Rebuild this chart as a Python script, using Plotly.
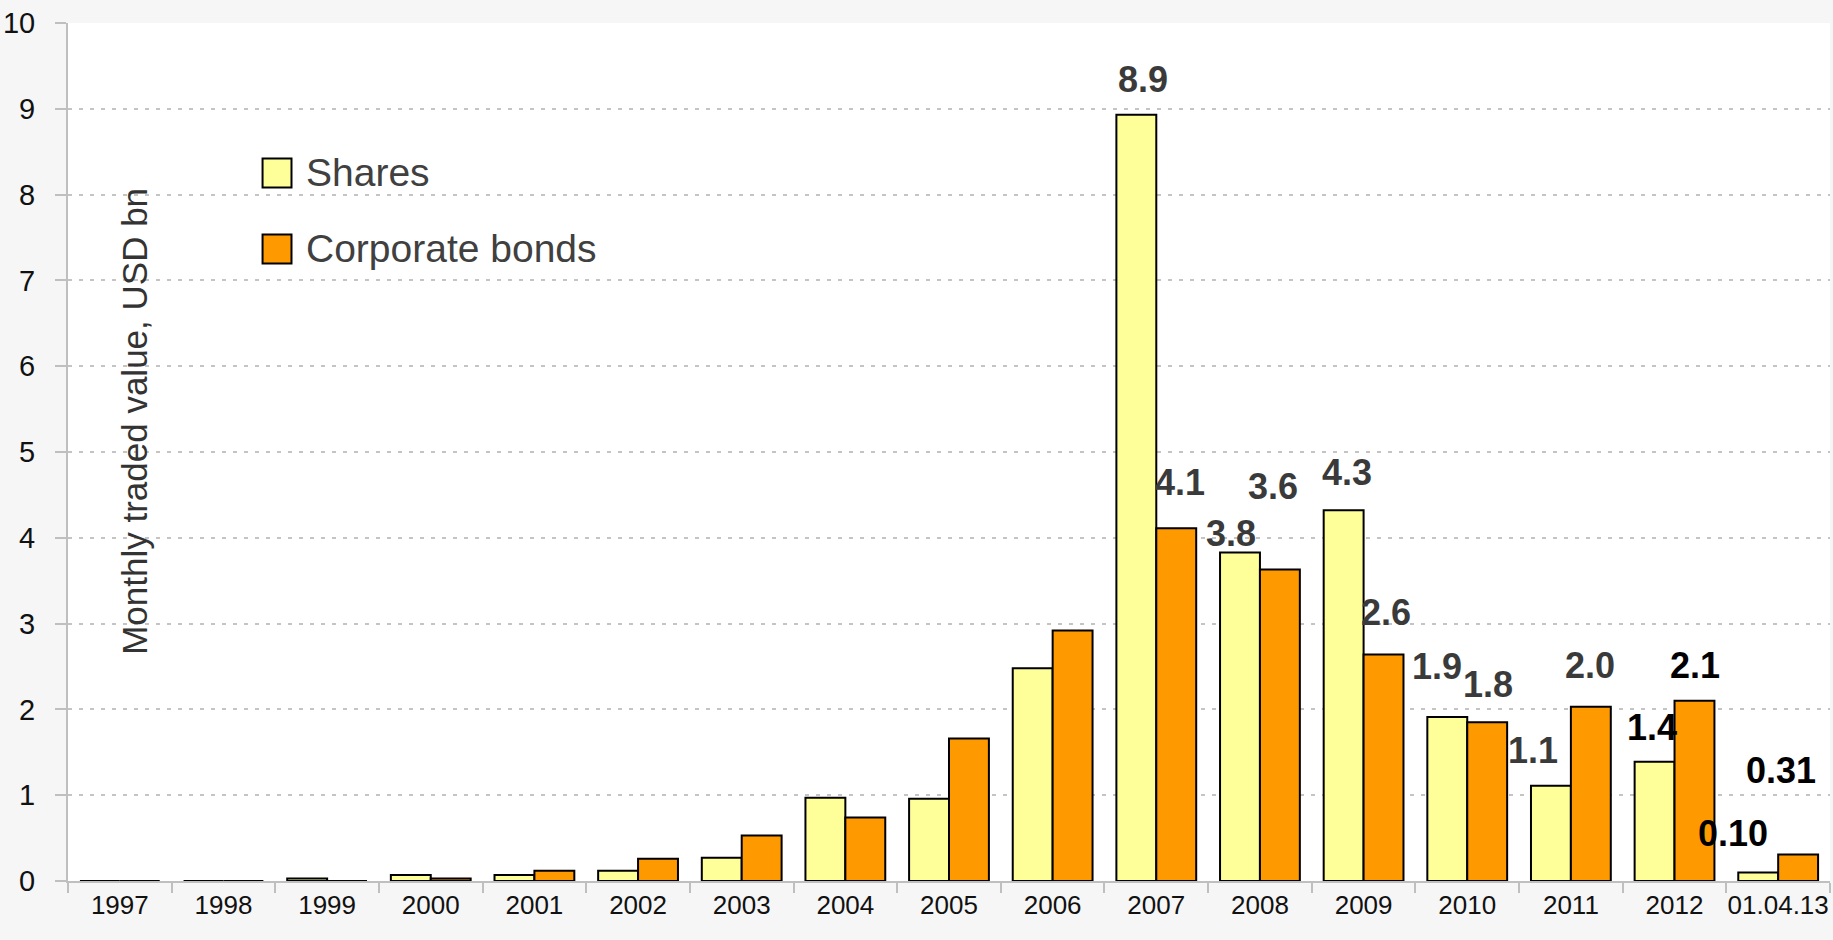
import plotly.graph_objects as go

categories = ["1997", "1998", "1999", "2000", "2001", "2002", "2003", "2004", "2005",
              "2006", "2007", "2008", "2009", "2010", "2011", "2012", "01.04.13"]
shares = [0, 0, 0.03, 0.07, 0.07, 0.12, 0.27, 0.97, 0.96, 2.48, 8.93, 3.83, 4.32, 1.91, 1.11, 1.39, 0.10]
bonds = [0, 0, 0, 0.03, 0.12, 0.26, 0.53, 0.74, 1.66, 2.92, 4.11, 3.63, 2.64, 1.85, 2.03, 2.10, 0.31]

share_labels = {"2007": "8.9", "2008": "3.8", "2009": "4.3", "2010": "1.9",
                "2011": "1.1", "2012": "1.4", "01.04.13": "0.10"}
bond_labels = {"2007": "4.1", "2008": "3.6", "2009": "2.6", "2010": "1.8",
               "2011": "2.0", "2012": "2.1", "01.04.13": "0.31"}

W, H = 1833, 940
ML, MR, MT, MB = 64, 3, 23, 59
FONT = "Liberation Sans, Arial, sans-serif"

fig = go.Figure()
fig.add_trace(go.Bar(x=categories, y=shares, name="Shares",
                     marker=dict(color="#FFFF99", line=dict(color="#000000", width=2))))
fig.add_trace(go.Bar(x=categories, y=bonds, name="Corporate bonds",
                     marker=dict(color="#FF9900", line=dict(color="#000000", width=2))))

share_off = {"2007": (7, 35), "2008": (-9, 19), "2009": (3, 38), "2010": (-10, 51),
             "2011": (-18, 35), "2012": (-3, 34), "01.04.13": (-25, 39)}
bond_off = {"2007": (4, 46), "2008": (-7, 83), "2009": (2, 42), "2010": (1, 38),
            "2011": (-1, 41), "2012": (0, 35), "01.04.13": (-17, 84)}
black_labels = {("s", "2012"), ("s", "01.04.13"), ("b", "2012"), ("b", "01.04.13")}

bar_half = 20
for key, labels, vals, offs, sign in (("s", share_labels, shares, share_off, -1),
                                      ("b", bond_labels, bonds, bond_off, 1)):
    for cat, txt in labels.items():
        i = categories.index(cat)
        dx, dy = offs[cat]
        fig.add_annotation(x=i, y=vals[i], xref="x", yref="y", text="<b>%s</b>" % txt,
                           showarrow=False, xshift=sign * bar_half + dx, yshift=dy,
                           font=dict(family=FONT, size=36,
                                     color="#000000" if (key, cat) in black_labels else "#3a3a3a"))

pw, ph = W - ML - MR, H - MT - MB
def px(x):
    return (x - ML) / pw
def py(y):
    return (H - MB - y) / ph

legend_items = [("Shares", "#FFFF99", 173), ("Corporate bonds", "#FF9900", 249)]
for name, col, cy in legend_items:
    fig.add_shape(type="rect", xref="paper", yref="paper",
                  x0=px(259), x1=px(288), y0=py(cy + 14.5), y1=py(cy - 14.5),
                  fillcolor=col, line=dict(color="#000000", width=2))
    fig.add_annotation(xref="paper", yref="paper", x=px(301), y=py(cy),
                       xanchor="left", yanchor="middle", text=name, showarrow=False,
                       font=dict(family=FONT, size=39, color="#404040"))

fig.add_annotation(xref="paper", yref="paper", x=px(131), y=py(421),
                   text="Monthly traded value, USD bn", textangle=-90, showarrow=False,
                   xanchor="center", yanchor="middle",
                   font=dict(family=FONT, size=35, color="#333333"))

fig.update_layout(
    width=W, height=H,
    margin=dict(l=ML, r=MR, t=MT, b=MB),
    paper_bgcolor="#f6f6f6", plot_bgcolor="#ffffff",
    barmode="group", bargap=0.23, bargroupgap=0,
    showlegend=False,
)
fig.update_xaxes(
    type="category", range=[-0.5, len(categories) - 0.5], tickson="boundaries",
    ticks="outside", ticklen=10, tickwidth=2,
    tickcolor="#bfbfbf", showline=True, linecolor="#bfbfbf", linewidth=2,
    showgrid=False, tickangle=0, tickfont=dict(family=FONT, size=26, color="#111111"),
)
fig.update_yaxes(
    range=[0, 10], dtick=1, ticks="outside", ticklen=11, tickwidth=2, tickcolor="#bfbfbf",
    showline=True, linecolor="#bfbfbf", linewidth=2,
    showgrid=True, gridcolor="#c4c4c4", gridwidth=2, griddash="4px,7px",
    zeroline=False, ticklabelstandoff=14,
    tickfont=dict(family=FONT, size=29, color="#111111"),
)

fig.write_html(
    "out.html",
    config={"displayModeBar": False},
    post_script="document.body.style.margin='0px';document.body.style.overflow='hidden';"
                "document.body.style.background='#f6f6f6';",
)
